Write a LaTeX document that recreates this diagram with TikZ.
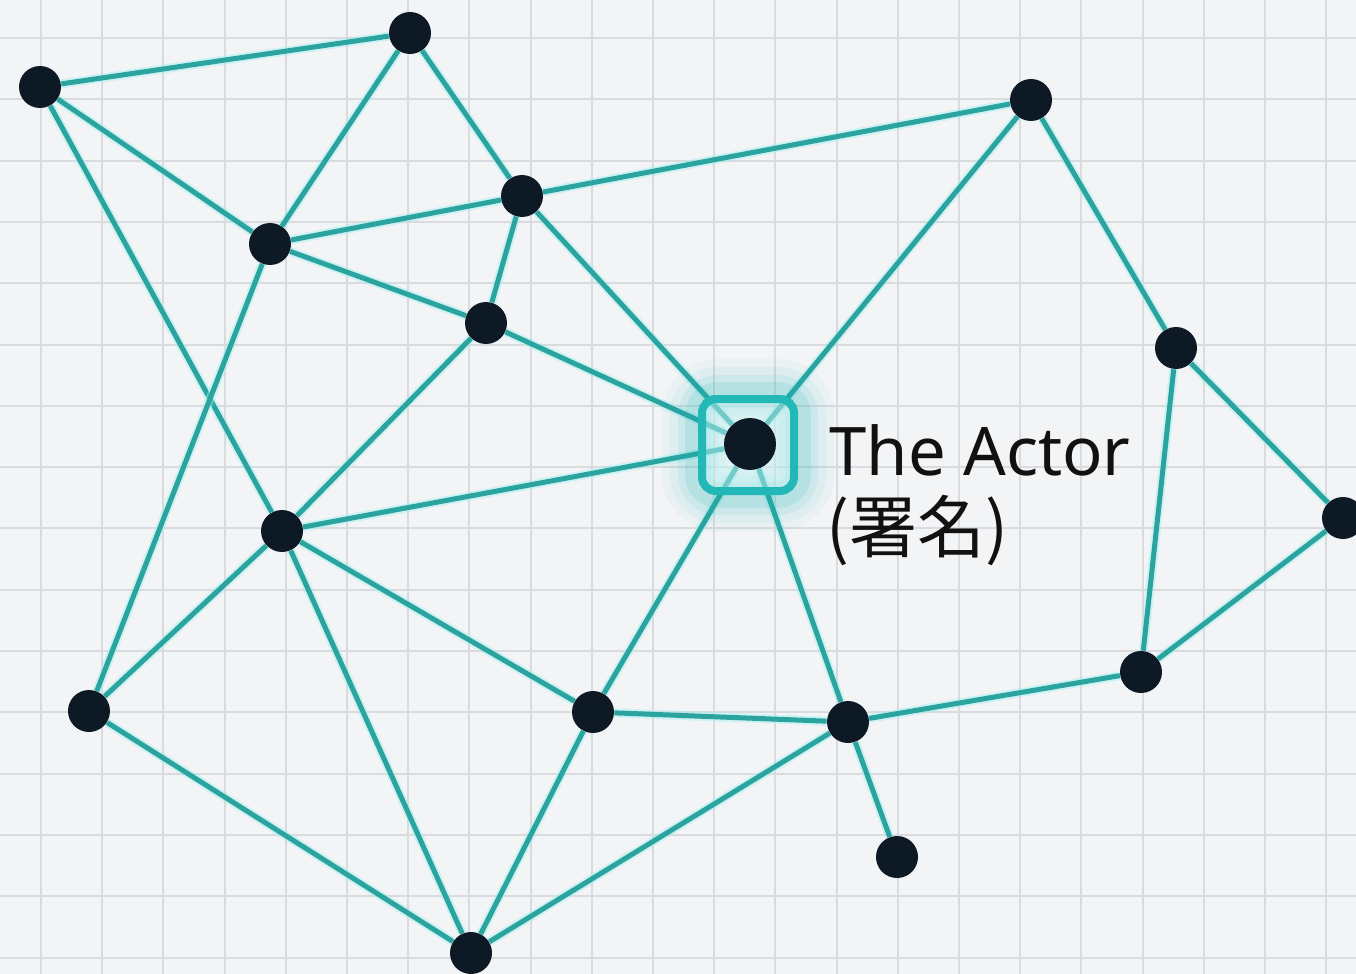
\documentclass[tikz,border=0pt]{standalone}
\usepackage{fontspec}
\setmainfont{Noto Sans}
\newfontfamily\cjk{Noto Sans CJK JP}
\pgfdeclarelayer{bg}
\pgfdeclarelayer{edgelayer}
\pgfsetlayers{bg,edgelayer,main}
\definecolor{paper}{HTML}{F3F4F6}
\definecolor{gridc}{HTML}{D9DBDF}
\definecolor{teal1}{HTML}{2BA39E}
\definecolor{halo}{HTML}{9FF0F0}
\definecolor{navy}{HTML}{0D1A26}
\definecolor{boxc}{HTML}{22B8B8}
\definecolor{ink}{HTML}{111111}
\begin{document}
\begin{tikzpicture}[x=0.5pt,y=-0.5pt,
  dot/.style={circle,fill=navy,inner sep=0pt,minimum size=21pt},
  edge/.style={draw=teal1,line width=2.5pt,preaction={draw=halo,line width=4.5pt,opacity=0.45}},
  gridline/.style={draw=gridc,line width=1pt},
  actorbox/.style={draw=boxc,line width=4pt,fill=halo!50,fill opacity=0.45,rounded corners=7pt,minimum size=46pt,inner sep=0pt},
  label/.style={anchor=base west,inner sep=0pt,text=ink}]
\useasboundingbox (0,0) rectangle (1356,974);
\clip (0,0) rectangle (1356,974);
\begin{pgfonlayer}{bg}
  \fill[paper] (0,0) rectangle (1356,974);
  \foreach \i in {0,...,23} \draw[gridline] ({-20.2+61.2*\i},0) -- ({-20.2+61.2*\i},974);
  \foreach \j in {0,...,16} \draw[gridline] (0,{-23.3+61.3*\j}) -- (1356,{-23.3+61.3*\j});
\end{pgfonlayer}
% nodes
\node[dot] (A) at (40,87) {};
\node[dot] (B) at (410,33) {};
\node[dot] (C) at (522,196) {};
\node[dot] (D) at (270,244) {};
\node[dot] (E) at (486,323) {};
\node[dot] (F) at (1031,100) {};
\node[dot] (G) at (1176,348) {};
\node[dot] (H) at (1343,518) {};
\node[dot] (I) at (282,531) {};
\node[dot] (J) at (89,711) {};
\node[dot] (K) at (593,712) {};
\node[dot] (L) at (848,722) {};
\node[dot] (M) at (1141,672) {};
\node[dot] (N) at (897,857) {};
\node[dot] (O) at (471,953) {};
% actor glow + box
\foreach \w/\o in {36/0.04,28/0.06,20/0.09,13/0.13} {
  \draw[boxc,line width=\w pt,opacity=\o,rounded corners=10pt] (698,395) rectangle (798,495);
}
\node[actorbox] (AB) at (748,445) {};
\node[dot,minimum size=26pt] (X) at (750,444) {};
\node[label,font=\fontsize{33.5}{40}\selectfont] (T1) at (829,475) {The Actor};
\node[label,font=\cjk\fontsize{34}{40}\selectfont] (T2) at (826,552) {(署名)};
\begin{pgfonlayer}{edgelayer}
  \foreach \a/\b in {A/B,A/D,A/I,B/D,B/C,D/C,D/E,D/J,C/E,C/F,C/X,E/X,E/I,X/F,X/I,X/K,X/L,F/G,G/H,G/M,H/M,I/J,I/K,I/O,J/O,K/L,K/O,L/O,L/M,L/N}
    \draw[edge] (\a) -- (\b);
\end{pgfonlayer}
\end{tikzpicture}
\end{document}
